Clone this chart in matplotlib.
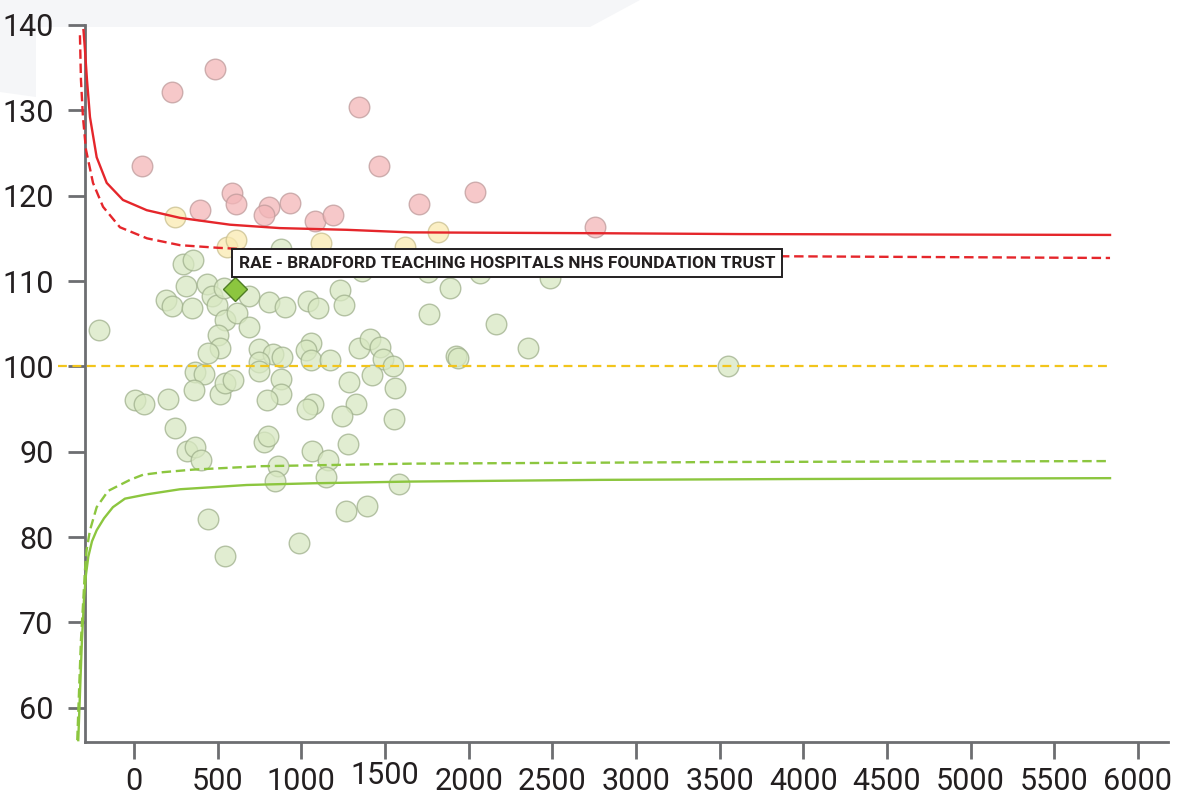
import matplotlib.pyplot as plt
from matplotlib.patches import Polygon
from matplotlib.transforms import ScaledTranslation

# trusts above the upper 99.8% limit
above_x = [46, 229, 484, 1346, 1464, 1703, 2038, 2755, 587, 608, 393, 804, 777, 933, 1080, 1189]
above_y = [123.5, 132.1, 134.8, 130.4, 123.5, 119.0, 120.4, 116.3, 120.3, 119.0, 118.3, 118.7,
           117.7, 119.1, 117.0, 117.7]

# trusts between the 95% and 99.8% limits
warn_x = [245, 554, 610, 1119, 1617, 1815]
warn_y = [117.5, 114.0, 114.8, 114.5, 114.0, 115.8]

# trusts inside the limits
within_x = [-207, 6, 62, 201, 191, 225, 243, 295, 351, 313, 345, 314, 365, 399, 365, 421, 360,
            514, 544, 593, 434, 464, 494, 538, 544, 614, 688, 504, 517, 444, 686, 804, 904, 1040,
            1100, 1231, 1257, 748, 832, 887, 746, 750, 878, 881, 792, 1060, 1030, 1058, 1171, 1282,
            1327, 1241, 1072, 1031, 1346, 1412, 1469, 1488, 1546, 1424, 1560, 1555, 1281, 1066,
            1158, 1146, 862, 843, 1585, 1269, 1391, 444, 986, 542, 777, 803, 1765, 1888, 2163,
            2356, 1924, 1939, 3548, 878, 1363, 1759, 2068, 2486]
within_y = [104.3, 96.1, 95.6, 96.2, 107.8, 107.1, 92.8, 112.0, 112.5, 109.4, 106.8, 90.1, 90.5,
            89.0, 99.3, 99.1, 97.2, 96.8, 98.1, 98.4, 109.6, 108.2, 107.2, 109.2, 105.4, 106.2,
            104.6, 103.7, 102.2, 101.6, 108.3, 107.6, 106.9, 107.7, 106.8, 108.9, 107.2, 102.0,
            101.4, 101.1, 100.5, 99.5, 98.5, 96.8, 96.0, 102.7, 101.9, 100.7, 100.7, 98.2, 95.6,
            94.2, 95.6, 95.0, 102.2, 103.2, 102.3, 100.9, 100.0, 99.0, 97.5, 93.8, 90.9, 90.1,
            89.0, 87.0, 88.3, 86.6, 86.2, 83.0, 83.6, 82.1, 79.3, 77.8, 91.1, 91.8, 106.1, 109.2,
            105.0, 102.1, 101.2, 101.0, 100.1, 113.7, 111.2, 111.1, 110.9, 110.4]

# highlighted trust
highlight_x = 604
highlight_y = 109.1
highlight_name = "RAE - BRADFORD TEACHING HOSPITALS NHS FOUNDATION TRUST"

# control limits
upper998_x = [-302, -293, -281, -263, -223, -163, -66, 76, 275, 574, 873, 1273, 1649, 2785, 3622, 5833]
upper998_y = [139.4, 137.1, 133.6, 129.2, 124.5, 121.5, 119.5, 118.3, 117.4, 116.6, 116.2, 116.0,
              115.7, 115.6, 115.5, 115.4]
upper95_x = [-323, -317, -305, -287, -245, -185, -84, 78, 275, 496, 992, 2187, 3873, 5833]
upper95_y = [138.8, 133.6, 129.2, 125.4, 121.5, 118.7, 116.3, 115.0, 114.2, 113.9, 113.4, 113.2,
             112.9, 112.7]
lower95_x = [-339, -326, -317, -303, -293, -283, -263, -223, -155, -24, 54, 173, 353, 753, 1649,
             3622, 5833]
lower95_y = [56.2, 63.2, 67.9, 72.6, 76.1, 78.5, 80.8, 83.5, 85.4, 86.7, 87.3, 87.6, 87.9, 88.3,
             88.6, 88.8, 88.9]
lower998_x = [-333, -320, -311, -299, -287, -273, -251, -223, -179, -126, -54, 76, 275, 674, 1070,
              1649, 2785, 3980, 5833]
lower998_y = [56.2, 63.2, 67.9, 72.6, 75.6, 77.7, 79.5, 80.8, 82.2, 83.5, 84.5, 85.0, 85.6, 86.1,
              86.3, 86.5, 86.7, 86.8, 86.9]
mean_x = [-454, 5833]
mean_y = [100.1, 100.1]

xticks = list(range(0, 6001, 500))
yticks = list(range(60, 141, 10))

label_font = 'Roboto'
axis_grey = '#6d6e71'
text_col = '#231f20'

fig = plt.figure(figsize=(11.81, 7.96), dpi=100)

# light page background band behind the chart
W, H = 1181, 796
band = [(0, 0), (640, 0), (590, 27), (36, 27), (36, 97), (0, 92)]
fig.patches.append(Polygon([(x / W, 1 - y / H) for x, y in band], closed=True,
                           transform=fig.transFigure, fc='#f5f6f8', ec='none', zorder=-1))

ax = fig.add_axes([0.06528, 0.06822, 0.92379, 0.90038])
ax.patch.set_alpha(0)

# spines first: moving a spine resets the tick labels
for side in ['top', 'right']:
    ax.spines[side].set_visible(False)
ax.spines['left'].set_position(('data', -293))
for side in ['left', 'bottom']:
    ax.spines[side].set_color(axis_grey)
    ax.spines[side].set_linewidth(2)

ax.scatter(within_x, within_y, s=220, c='#d8e8c2', alpha=0.75, edgecolors='#9fb08c',
           linewidths=1.0, zorder=2)
ax.scatter(warn_x, warn_y, s=220, c='#faeab0', alpha=0.75, edgecolors='#c9bf8e',
           linewidths=1.0, zorder=2)
ax.scatter(above_x, above_y, s=220, c='#f3b6b8', alpha=0.75, edgecolors='#bf9b9b',
           linewidths=1.0, zorder=2)

ax.plot(upper998_x, upper998_y, color='#e5262b', lw=1.7, zorder=3, clip_on=False)
ax.plot(upper95_x, upper95_y, color='#e5262b', lw=1.7, ls=(0, (4, 2)), zorder=3, clip_on=False)
ax.plot(lower998_x, lower998_y, color='#8cc63f', lw=1.7, zorder=3, clip_on=False)
ax.plot(lower95_x, lower95_y, color='#8cc63f', lw=1.7, ls=(0, (4, 2)), zorder=3, clip_on=False)
ax.plot(mean_x, mean_y, color='#f2c51c', lw=1.6, ls=(0, (4, 2.5)), zorder=3, clip_on=False)

ax.plot(highlight_x, highlight_y, marker='D', ms=12, mfc='#8cc63f', mec='#4f7d26', mew=1.0,
        zorder=4, clip_on=False)
ax.annotate(highlight_name, (highlight_x, highlight_y), xytext=(4, 25.5),
            textcoords='offset pixels', ha='left', va='center', fontsize=12.5,
            fontweight='bold', family=label_font, color=text_col, zorder=5,
            bbox=dict(boxstyle='square,pad=0.38', fc='white', ec=text_col, lw=1.4))

ax.set_xlim(-340, 6180)
ax.set_ylim(56.02, 140)
ax.spines['left'].set_bounds(56.02, 140)
ax.spines['bottom'].set_bounds(-293, 6180)
ax.set_xticks(xticks)
ax.set_yticks(yticks)
ax.set_xticklabels([str(v) for v in xticks], family=label_font, fontsize=22, color=text_col)
ax.set_yticklabels([str(v) for v in yticks], family=label_font, fontsize=22, color=text_col)
ax.tick_params(axis='both', colors=axis_grey, labelcolor=text_col, width=2, length=12.5)
ax.tick_params(axis='y', pad=10)
ax.tick_params(axis='x', pad=6)

# the 1500 label sits a little higher than its neighbours
lbl = ax.get_xticklabels()[3]
lbl.set_transform(lbl.get_transform() + ScaledTranslation(0, 0.06, fig.dpi_scale_trans))

fig.savefig('out.png', dpi=100)
